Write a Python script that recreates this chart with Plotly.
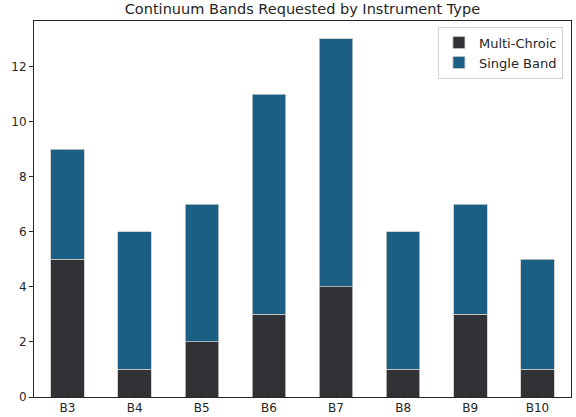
import plotly.graph_objects as go

categories = ["B3", "B4", "B5", "B6", "B7", "B8", "B9", "B10"]
multi_chroic = [5, 1, 2, 3, 4, 1, 3, 1]
single_band = [4, 5, 5, 8, 9, 5, 4, 4]

fig = go.Figure()
fig.add_trace(go.Bar(x=categories, y=multi_chroic, name="Multi-Chroic",
                     marker=dict(color="#313236", line=dict(color="#c8c8c8", width=0.8)),
                     width=0.5))
fig.add_trace(go.Bar(x=categories, y=single_band, name="Single Band",
                     marker=dict(color="#1b5f85", line=dict(color="#c8c8c8", width=0.8)),
                     width=0.5))

fig.update_layout(
    barmode="stack",
    width=576, height=417,
    margin=dict(l=34, r=5, t=21, b=20, autoexpand=False),
    paper_bgcolor="white", plot_bgcolor="white",
    font=dict(family="DejaVu Sans", size=12, color="#262626"),
    title=dict(text="Continuum Bands Requested by Instrument Type", x=0.525, xanchor="center",
               y=1 - 9 / 417, yref="container", yanchor="middle", font=dict(size=14.5, color="#262626"),
               automargin=False),
    legend=dict(x=0.985, y=0.985, xanchor="right", yanchor="top",
                bgcolor="rgba(255,255,255,0.8)", bordercolor="#d0d0d0", borderwidth=1,
                font=dict(size=13), traceorder="normal"),
    xaxis=dict(range=[-0.5, 7.5], showline=True, linecolor="#262626", linewidth=1, mirror=True,
               ticks="inside", ticklen=4, tickcolor="#262626", showgrid=False, automargin=False),
    yaxis=dict(range=[0, 13.65], dtick=2, showline=True, linecolor="#262626", linewidth=1, mirror=True,
               ticks="outside", ticklen=4, tickcolor="#262626", showgrid=False, zeroline=False,
               automargin=False),
)

fig.write_html("out.html", config={"displayModeBar": False},
               post_script="document.body.style.margin='0';document.body.style.padding='0';")
